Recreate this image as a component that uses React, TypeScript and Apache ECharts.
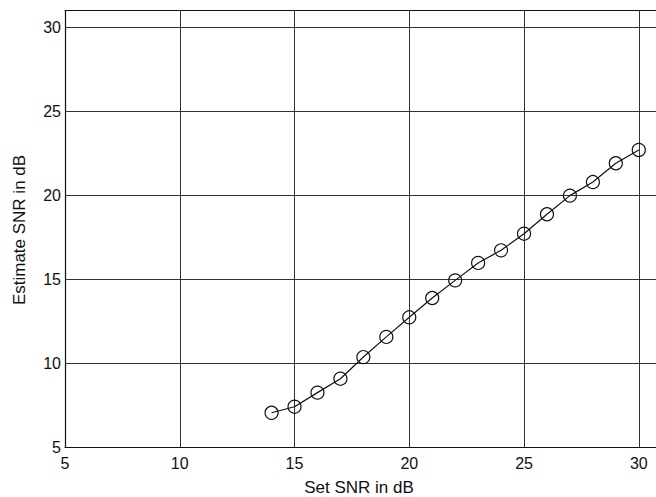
import React, { useEffect, useRef } from "react";
import * as echarts from "echarts";

const setSnr = [14, 15, 16, 17, 18, 19, 20, 21, 22, 23, 24, 25, 26, 27, 28, 29, 30];
const estSnr = [7.04, 7.4, 8.24, 9.07, 10.36, 11.56, 12.73, 13.88, 14.93, 15.97, 16.72, 17.71, 18.87, 19.98, 20.79, 21.91, 22.7];
const xTicks = [5, 10, 15, 20, 25, 30];
const yTicks = [5, 10, 15, 20, 25, 30];
const xMax = 30.75;
const yMax = 31;

export default function App() {
  const ref = useRef<HTMLDivElement>(null);
  useEffect(() => {
    document.body.style.margin = "0";
    document.body.style.overflow = "hidden";
    const chart = echarts.init(ref.current!, null, { renderer: "svg" });
    const font = "'Liberation Sans', Arial, sans-serif";
    chart.setOption({
      animation: false,
      backgroundColor: "#ffffff",
      grid: {
        left: 65,
        top: 10.7,
        bottom: 50,
        right: 0,
        show: false,
        containLabel: false,
      },
      xAxis: [
        {
          type: "value",
          min: 5,
          max: xMax,
          position: "bottom",
          axisLine: { show: true, lineStyle: { color: "#111", width: 1.2 } },
          axisTick: { show: true, inside: true, length: 4, lineStyle: { color: "#111" }, customValues: xTicks },
          axisLabel: { color: "#111", fontFamily: font, fontSize: 16, margin: 8, customValues: xTicks },
          splitLine: { show: false },
        },
        {
          type: "value",
          min: 5,
          max: xMax,
          position: "top",
          axisLine: { show: true, lineStyle: { color: "#111", width: 1.2 } },
          axisTick: { show: true, inside: true, length: 4, lineStyle: { color: "#111" }, customValues: xTicks },
          axisLabel: { show: false },
          splitLine: { show: false },
        },
      ],
      yAxis: {
        type: "value",
        min: 5,
        max: yMax,
        axisLine: { show: true, lineStyle: { color: "#111", width: 1.2 } },
        axisTick: { show: true, inside: true, length: 4, lineStyle: { color: "#111" }, customValues: yTicks },
        axisLabel: { color: "#111", fontFamily: font, fontSize: 16, margin: 4, customValues: yTicks },
        splitLine: { show: false },
      },
      graphic: [
        {
          type: "text",
          x: 359,
          y: 487,
          style: {
            text: "Set SNR in dB",
            fontFamily: font,
            fontSize: 17,
            fill: "#111",
            align: "center",
            verticalAlign: "middle",
          },
        },
        {
          type: "text",
          x: 19,
          y: 230,
          rotation: Math.PI / 2,
          style: {
            text: "Estimate SNR in dB",
            fontFamily: font,
            fontSize: 17,
            fill: "#111",
            align: "center",
            verticalAlign: "middle",
          },
        },
      ],
      series: [
        {
          type: "line",
          data: setSnr.map((x, i) => [x, estSnr[i]]),
          symbol: "circle",
          symbolSize: 13,
          itemStyle: { color: "transparent", borderColor: "#111", borderWidth: 1.2 },
          lineStyle: { color: "#111", width: 1.2 },
          z: 5,
          markLine: {
            silent: true,
            symbol: "none",
            label: { show: false },
            lineStyle: { color: "#333", width: 1, type: "solid" },
            data: [
              ...xTicks.filter((v) => v > 5).map((v) => ({ xAxis: v })),
              ...yTicks.filter((v) => v > 5).map((v) => ({ yAxis: v })),
            ],
          },
        },
      ],
    });
    return () => chart.dispose();
  }, []);
  return <div ref={ref} style={{ width: 656, height: 497 }} />;
}
